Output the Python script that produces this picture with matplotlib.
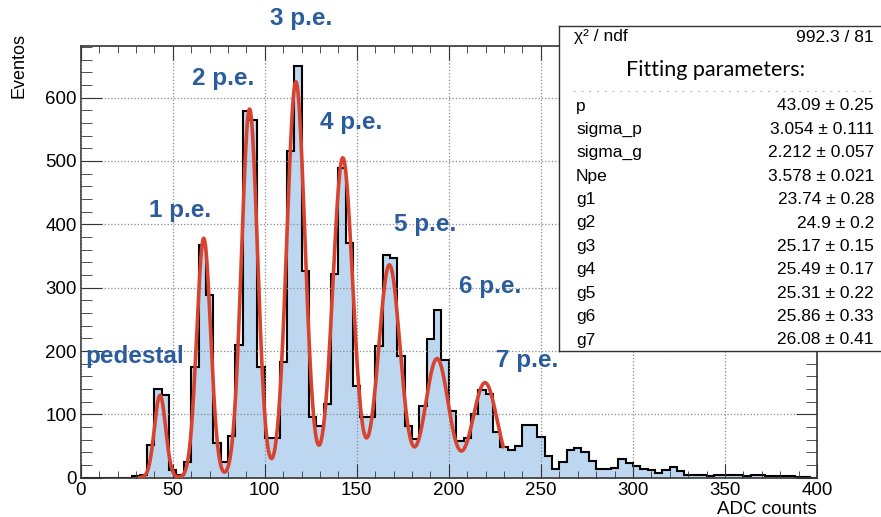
import numpy as np
import matplotlib
matplotlib.use('Agg')
import matplotlib.pyplot as plt
from matplotlib.ticker import MultipleLocator

plt.rcParams['font.family'] = ['Liberation Sans', 'DejaVu Sans']

# histogram: 100 bins of 4 ADC counts, 0..400
bin_edges = np.arange(0, 401, 4)
counts = [0, 0, 0, 0, 0, 0, 0,
          3, 5, 52, 140, 131, 12, 5, 24,
          175, 367, 289, 54, 25, 66, 209, 579,
          565, 174, 63, 63, 183, 516, 650, 327,
          96, 82, 116, 322, 489, 371, 144, 96,
          96, 208, 352, 347, 192, 81, 61, 113,
          219, 265, 186, 106, 58, 62, 100, 139,
          132, 72, 48, 44, 50, 83, 83, 65,
          35, 13, 25, 43, 47, 41, 26, 13,
          13, 16, 29, 23, 18, 13, 12, 8,
          12, 17, 11, 5, 5, 5, 2, 5,
          4, 4, 4, 2, 5, 5, 3, 3,
          3, 3, 1, 1, 0]

# fit results (from the stats box)
ped = 43.09
sigma_p = 3.054
sigma_g = 2.212
gains = [23.74, 24.9, 25.17, 25.49, 25.31, 25.86, 26.08]
# peak heights of the fitted curve
peak_heights = [130, 378, 582, 625, 505, 336, 188, 150]
fit_lo, fit_hi = 32, 229.5

par_names = ['p', 'sigma_p', 'sigma_g', 'Npe', 'g1', 'g2', 'g3', 'g4', 'g5', 'g6', 'g7']
par_values = ['43.09 \u00b1 0.25', '3.054 \u00b1 0.111', '2.212 \u00b1 0.057', '3.578 \u00b1 0.021',
              '23.74 \u00b1 0.28', '24.9 \u00b1 0.2', '25.17 \u00b1 0.15', '25.49 \u00b1 0.17',
              '25.31 \u00b1 0.22', '25.86 \u00b1 0.33', '26.08 \u00b1 0.41']

peak_labels = ['pedestal', '1 p.e.', '2 p.e.', '3 p.e.', '4 p.e.', '5 p.e.', '6 p.e.', '7 p.e.']
label_xy = [(135, 357), (180, 211), (223, 79), (301, 18), (351, 123), (425, 225), (490, 286), (527, 360)]

W, H = 881, 517

# fit curve: sum of gaussians at pedestal + cumulative gains
means = ped + np.concatenate([[0], np.cumsum(gains)])
sigmas = np.sqrt(sigma_p ** 2 + np.arange(len(means)) * sigma_g ** 2)
x_fit = np.linspace(fit_lo, fit_hi, 1000)
y_fit = np.zeros_like(x_fit)
for m, s, h in zip(means, sigmas, peak_heights):
    y_fit += h * np.exp(-0.5 * ((x_fit - m) / s) ** 2)

fig = plt.figure(figsize=(W / 100, H / 100), dpi=100)
ax = fig.add_axes([80.7 / W, 1 - 477.7 / H, (817 - 80.7) / W, (477.7 - 45.7) / H])

ax.stairs(counts, bin_edges, fill=True, color='#bdd7f1', zorder=1)
ax.stairs(counts, bin_edges, color='black', lw=1.5, zorder=2)
ax.plot(x_fit, y_fit, color='#d8432f', lw=2.6, zorder=3)

ax.set_xlim(0, 400)
ax.set_ylim(0, 682)
ax.xaxis.set_major_locator(MultipleLocator(50))
ax.xaxis.set_minor_locator(MultipleLocator(10))
ax.yaxis.set_major_locator(MultipleLocator(100))
ax.yaxis.set_minor_locator(MultipleLocator(20))
ax.tick_params(which='both', direction='in', top=True, right=True, labelsize=13.5, color='#333')
ax.tick_params(axis='x', which='major', length=10, pad=3)
ax.tick_params(axis='x', which='minor', length=5)
ax.tick_params(axis='y', which='major', length=15, pad=3)
ax.tick_params(axis='y', which='minor', length=8)
ax.grid(True, which='major', linestyle=':', color='#888888', lw=0.9)
ax.set_axisbelow(False)
for sp in ax.spines.values():
    sp.set_color('#333')
    sp.set_linewidth(1.2)

fig.text(817 / W, 1 - 510 / H, 'ADC counts', ha='right', va='center', fontsize=13.5)
fig.text(19 / W, 1 - 66 / H, 'Eventos', rotation=90, ha='center', va='center', fontsize=13)

for lab, (lx, ly) in zip(peak_labels, label_xy):
    fig.text(lx / W, 1 - ly / H, lab, ha='center', va='center', fontsize=17.5,
             fontweight='bold', color='#2b5c9c')

# stats box
bx0, by0, by1 = 559, 26, 351
box = fig.add_axes([bx0 / W, 1 - by1 / H, 0.4, (by1 - by0) / H], zorder=5)
box.set_xlim(bx0, bx0 + 0.4 * W)
box.set_ylim(by1, by0)
box.set_xticks([])
box.set_yticks([])
for sp in box.spines.values():
    sp.set_color('#333')
    sp.set_linewidth(1.0)

box.text(574, 37, '\u03c7\u00b2 / ndf', ha='left', va='center', fontsize=12.5)
box.text(874, 37, '992.3 / 81', ha='right', va='center', fontsize=12.5)
box.text(716, 70, 'Fitting parameters:', ha='center', va='center', fontsize=15.5, family='Lato')
box.plot([573, 873], [91, 91], color='#bbbbbb', lw=0.8, ls=(0, (2, 5)))
for i, (n, v) in enumerate(zip(par_names, par_values)):
    yy = 106 + 23.4 * i
    box.text(576, yy, n, ha='left', va='center', fontsize=12.5)
    box.text(874, yy, v, ha='right', va='center', fontsize=12.5)

fig.savefig('out.png', dpi=100)
